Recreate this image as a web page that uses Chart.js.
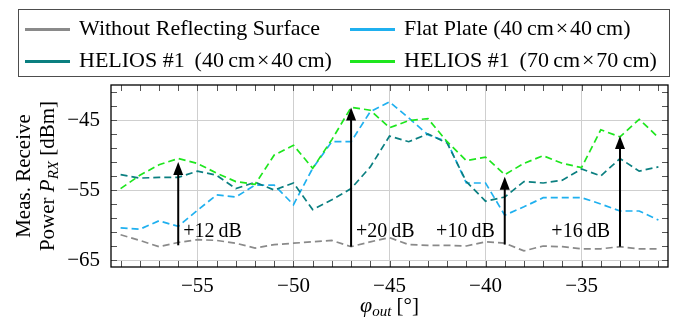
<!DOCTYPE html>
<html>
<head>
<meta charset="utf-8">
<script src="https://cdn.jsdelivr.net/npm/chart.js@4.4.0/dist/chart.umd.min.js"></script>
<style>
  html, body { margin: 0; padding: 0; background: #fff; }
  #wrap { position: relative; width: 686px; height: 320px; }
  #chart { position: absolute; left: 0; top: 0; }
  #legend {
    position: absolute; left: 18px; top: 9px; width: 652px; height: 68px;
    border: 1px solid #4d4d4d; box-sizing: border-box;
    font-family: 'Liberation Serif', serif; font-size: 22px; color: #000;
  }
  .item { position: absolute; white-space: nowrap; height: 30px; line-height: 30px; }
  .swatch { display: inline-block; width: 45px; height: 3px; vertical-align: middle; margin-right: 9px; }
</style>
</head>
<body>
<div id="wrap">
  <canvas id="chart" width="686" height="320"></canvas>
  <div id="legend"></div>
</div>
<script>
const angles = [-59, -58, -57, -56, -55, -54, -53, -52, -51, -50, -49, -48, -47, -46, -45,
                -44, -43, -42, -41, -40, -39, -38, -37, -36, -35, -34, -33, -32, -31];
const withoutSurface = [-61.4, -62.2, -63.1, -62.5, -62.1, -62.2, -62.6, -63.3, -62.8, -62.6, -62.4, -62.2, -63.1, -62.4, -61.8,
                        -62.8, -62.9, -62.9, -63.0, -62.4, -62.6, -63.7, -63.0, -63.1, -63.4, -63.4, -63.1, -63.4, -63.4];
const flatPlate = [-60.4, -60.6, -59.4, -60.2, -57.9, -55.7, -56.0, -54.3, -54.3, -57.1, -51.9, -48.1, -48.1, -43.8, -42.4,
                   -44.7, -47.1, -48.1, -54.0, -54.0, -58.6, -57.4, -56.1, -56.1, -56.1, -57.0, -58.0, -58.0, -59.3];
const helios40 = [-52.8, -53.3, -53.2, -53.2, -52.3, -52.9, -54.8, -53.9, -55.0, -54.0, -57.8, -56.4, -54.8, -51.7, -47.3,
                  -48.1, -47.0, -48.3, -53.8, -56.6, -56.0, -53.8, -54.0, -53.6, -52.0, -53.0, -50.5, -52.3, -51.7];
const helios70 = [-54.8, -52.9, -51.4, -50.5, -51.2, -52.6, -53.8, -54.2, -50.0, -48.6, -51.9, -47.8, -43.2, -43.6, -46.1,
                  -45.1, -44.8, -48.1, -50.8, -50.3, -52.8, -51.2, -50.1, -51.2, -51.8, -46.4, -47.4, -44.9, -47.5];

const xTickValues = [-55, -50, -45, -40, -35];
const yTickValues = [-65, -55, -45];

// Gain annotations
const arrowAngles = [-56, -47, -39, -33];
const arrowFrom = [-62.9, -63.1, -62.8, -63.1];
const arrowTo = [-51.0, -43.2, -53.1, -47.3];
const arrowLabels = ['+12\u2009dB', '+20\u2009dB', '+10\u2009dB', '+16\u2009dB'];
const arrowLabelSide = ['right', 'right', 'left', 'left'];

const SERIF = "'Liberation Serif', serif";

const series = [
    { label: 'Without Reflecting Surface', values: withoutSurface, color: '#8a8a8a', order: 4 },
    { label: 'Flat Plate (40\u2009cm\u200a\u00d7\u200a40\u2009cm)', values: flatPlate, color: '#1fb0ef', order: 3 },
    { label: 'HELIOS #1 \u2009(40\u2009cm\u200a\u00d7\u200a40\u2009cm)', values: helios40, color: '#0a7f80', order: 2 },
    { label: 'HELIOS #1 \u2009(70\u2009cm\u200a\u00d7\u200a70\u2009cm)', values: helios70, color: '#1ee61e', order: 1 }
];

// Legend (2 x 2 grid like the original)
function buildLegend() {
    const box = document.getElementById('legend');
    const spots = [[6, 3], [331, 3], [6, 35], [331, 35]];
    series.forEach((s, k) => {
        const el = document.createElement('div');
        el.className = 'item';
        el.style.left = spots[k][0] + 'px';
        el.style.top = spots[k][1] + 'px';
        el.innerHTML = `<span class="swatch" style="background:${s.color}"></span><span>${s.label}</span>`;
        box.appendChild(el);
    });
}

// Draw text made of several runs (italic / subscript) centred at cx
function drawRuns(ctx, runs, cx, baseY) {
    let total = 0;
    runs.forEach(r => { ctx.font = r.font; total += ctx.measureText(r.t).width; });
    let pos = cx - total / 2;
    ctx.textAlign = 'left';
    ctx.textBaseline = 'alphabetic';
    runs.forEach(r => {
        ctx.font = r.font;
        ctx.fillText(r.t, pos, baseY + (r.dy || 0));
        pos += ctx.measureText(r.t).width;
    });
}

const decorations = {
    id: 'decorations',
    beforeDatasetsDraw(chart) {
        const { ctx, chartArea: a, scales: { x, y } } = chart;
        ctx.save();
        ctx.strokeStyle = '#555';
        ctx.lineWidth = 1;
        ctx.beginPath();
        // minor ticks every degree
        for (let v = Math.ceil(x.min); v <= x.max; v++) {
            const px = Math.round(x.getPixelForValue(v)) + 0.5;
            ctx.moveTo(px, a.top); ctx.lineTo(px, a.top + 6);
            ctx.moveTo(px, a.bottom); ctx.lineTo(px, a.bottom - 6);
        }
        // minor ticks every 2 dB
        for (let v = -65; v <= y.max; v += 2) {
            const py = Math.round(y.getPixelForValue(v)) + 0.5;
            ctx.moveTo(a.left, py); ctx.lineTo(a.left + 6, py);
            ctx.moveTo(a.right, py); ctx.lineTo(a.right - 6, py);
        }
        ctx.stroke();
        ctx.restore();
    },
    afterDatasetsDraw(chart) {
        const { ctx, chartArea: a, scales: { x, y } } = chart;
        ctx.save();
        // frame
        ctx.strokeStyle = '#000';
        ctx.lineWidth = 1.3;
        ctx.strokeRect(a.left, a.top, a.right - a.left, a.bottom - a.top);

        // arrows
        arrowAngles.forEach((ang, i) => {
            const px = x.getPixelForValue(ang);
            const y0 = y.getPixelForValue(arrowFrom[i]);
            const y1 = y.getPixelForValue(arrowTo[i]);
            ctx.strokeStyle = '#000';
            ctx.fillStyle = '#000';
            ctx.lineWidth = 2;
            ctx.beginPath();
            ctx.moveTo(px, y0);
            ctx.lineTo(px, y1 + 10);
            ctx.stroke();
            ctx.beginPath();
            ctx.moveTo(px, y1);
            ctx.lineTo(px - 5, y1 + 13);
            ctx.lineTo(px + 5, y1 + 13);
            ctx.closePath();
            ctx.fill();

            ctx.font = `20px ${SERIF}`;
            ctx.textBaseline = 'middle';
            const ly = y.getPixelForValue(-61);
            if (arrowLabelSide[i] === 'right') {
                ctx.textAlign = 'left';
                ctx.fillText(arrowLabels[i], px + 5, ly);
            } else {
                ctx.textAlign = 'right';
                ctx.fillText(arrowLabels[i], px - 10, ly);
            }
        });
        ctx.restore();
    },
    afterDraw(chart) {
        const { ctx, chartArea: a } = chart;
        ctx.save();
        ctx.fillStyle = '#000';
        // x title: phi_out [deg]
        drawRuns(ctx, [
            { t: '\u03c6', font: `italic 22px ${SERIF}` },
            { t: 'out', font: `italic 15px ${SERIF}`, dy: 4 },
            { t: ' [\u00b0]', font: `21px ${SERIF}` }
        ], (a.left + a.right) / 2, 312);

        // y title, two rotated lines
        const cy = (a.top + a.bottom) / 2;
        ctx.save();
        ctx.translate(30, cy);
        ctx.rotate(-Math.PI / 2);
        drawRuns(ctx, [{ t: 'Meas. Receive', font: `21px ${SERIF}` }], 0, 0);
        ctx.restore();

        ctx.save();
        ctx.translate(54, cy);
        ctx.rotate(-Math.PI / 2);
        drawRuns(ctx, [
            { t: 'Power ', font: `21px ${SERIF}` },
            { t: 'P', font: `italic 21px ${SERIF}` },
            { t: 'RX', font: `italic 15px ${SERIF}`, dy: 4 },
            { t: ' [dBm]', font: `21px ${SERIF}` }
        ], 0, 0);
        ctx.restore();
        ctx.restore();
    }
};

document.addEventListener('DOMContentLoaded', function() {
    buildLegend();

    const gridColor = '#cfcfcf';
    const tickFont = { family: SERIF, size: 21 };
    const fmt = v => '\u2212' + Math.abs(v);

    new Chart(document.getElementById('chart'), {
        type: 'line',
        data: {
            datasets: series.map(s => ({
                label: s.label,
                data: angles.map((a, i) => ({ x: a, y: s.values[i] })),
                borderColor: s.color,
                borderWidth: 1.7,
                borderDash: [7, 4],
                pointRadius: 0,
                tension: 0,
                fill: false,
                order: s.order
            }))
        },
        options: {
            responsive: false,
            animation: false,
            devicePixelRatio: 1,
            layout: { padding: { left: 0, right: 18, top: 85, bottom: 0 } },
            plugins: {
                legend: { display: false },
                tooltip: { enabled: false }
            },
            scales: {
                x: {
                    type: 'linear',
                    min: -59.5,
                    max: -30.5,
                    afterBuildTicks: scale => { scale.ticks = xTickValues.map(v => ({ value: v })); },
                    afterFit: scale => { scale.height = 53; },
                    grid: { color: gridColor, lineWidth: 1, drawTicks: false },
                    border: { display: false },
                    ticks: { font: tickFont, color: '#000', padding: 7, callback: fmt, maxRotation: 0 }
                },
                y: {
                    min: -66,
                    max: -40,
                    afterBuildTicks: scale => { scale.ticks = yTickValues.map(v => ({ value: v })); },
                    afterFit: scale => { scale.width = 111; },
                    grid: { color: gridColor, lineWidth: 1, drawTicks: false },
                    border: { display: false },
                    ticks: { font: tickFont, color: '#000', padding: 11, callback: fmt }
                }
            }
        },
        plugins: [decorations]
    });
});
</script>
</body>
</html>
